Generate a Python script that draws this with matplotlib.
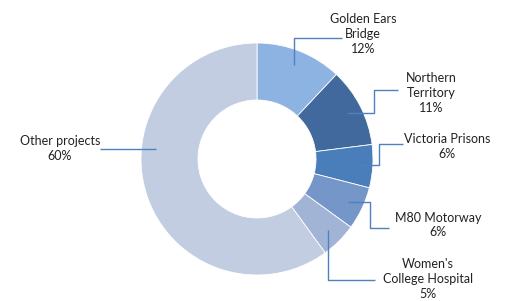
import numpy as np
import matplotlib
matplotlib.use("Agg")
import matplotlib.pyplot as plt

projects = ["Golden Ears\nBridge", "Northern\nTerritory", "Victoria Prisons",
            "M80 Motorway", "Women's\nCollege Hospital", "Other projects"]
shares = [12, 11, 6, 6, 5, 60]
colors = ["#8db3e2", "#41699d", "#4a7ebb", "#7596c8", "#a2b4d6", "#c3cde2"]

H = 301
cx, cy, r_out, r_in = 257, H - 159, 116, 59

# label text centre and leader elbow points (pixel coords, y from top)
label_pos = [(363, 34), (431, 93), (447, 146), (438, 225), (428, 279), (60, 148)]
elbows = [
    [("v", 38), ("h", 342)],
    [("h", 374), ("v", 90), ("h", 398)],
    [("h", 379), ("v", 144), ("h", 403)],
    [("h", 370), ("v", 228), ("h", 389)],
    [("v", 280), ("h", 375)],
    [("h", 100)],
]

plt.rcParams['font.family'] = ['Lato', 'DejaVu Sans']
fig = plt.figure(figsize=(5.06, 3.01), dpi=100)
ax = fig.add_axes([0, 0, 1, 1])

wedges, _ = ax.pie(shares, colors=colors, startangle=90, counterclock=False,
                   center=(cx, cy), radius=r_out, frame=True,
                   wedgeprops=dict(width=r_out - r_in, edgecolor="white", linewidth=0.6))
ax.set_xlim(0, 506)
ax.set_ylim(0, H)
ax.axis("off")

rr = 101
for w, name, val, (tx, ty), route in zip(wedges, projects, shares, label_pos, elbows):
    if val < 50:
        ang = np.deg2rad((w.theta1 + w.theta2) / 2)
        x, y = cx + rr * np.cos(ang), cy + rr * np.sin(ang)
    else:
        # excel puts the big slice's leader level with its label
        y = H - 149
        x = cx - np.sqrt(rr ** 2 - (y - cy) ** 2)
    xs, ys = [x], [y]
    for kind, v in route:
        if kind == "h":
            x = v
        else:
            y = H - v
        xs.append(x)
        ys.append(y)
    ax.plot(xs, ys, color="#4f81bd", lw=1.0, solid_capstyle="butt")
    ax.text(tx, H - ty, f"{name}\n{val}%", ha="center", va="center",
            fontsize=9, color="#222222", linespacing=1.3)

fig.savefig("out.png", dpi=100)
